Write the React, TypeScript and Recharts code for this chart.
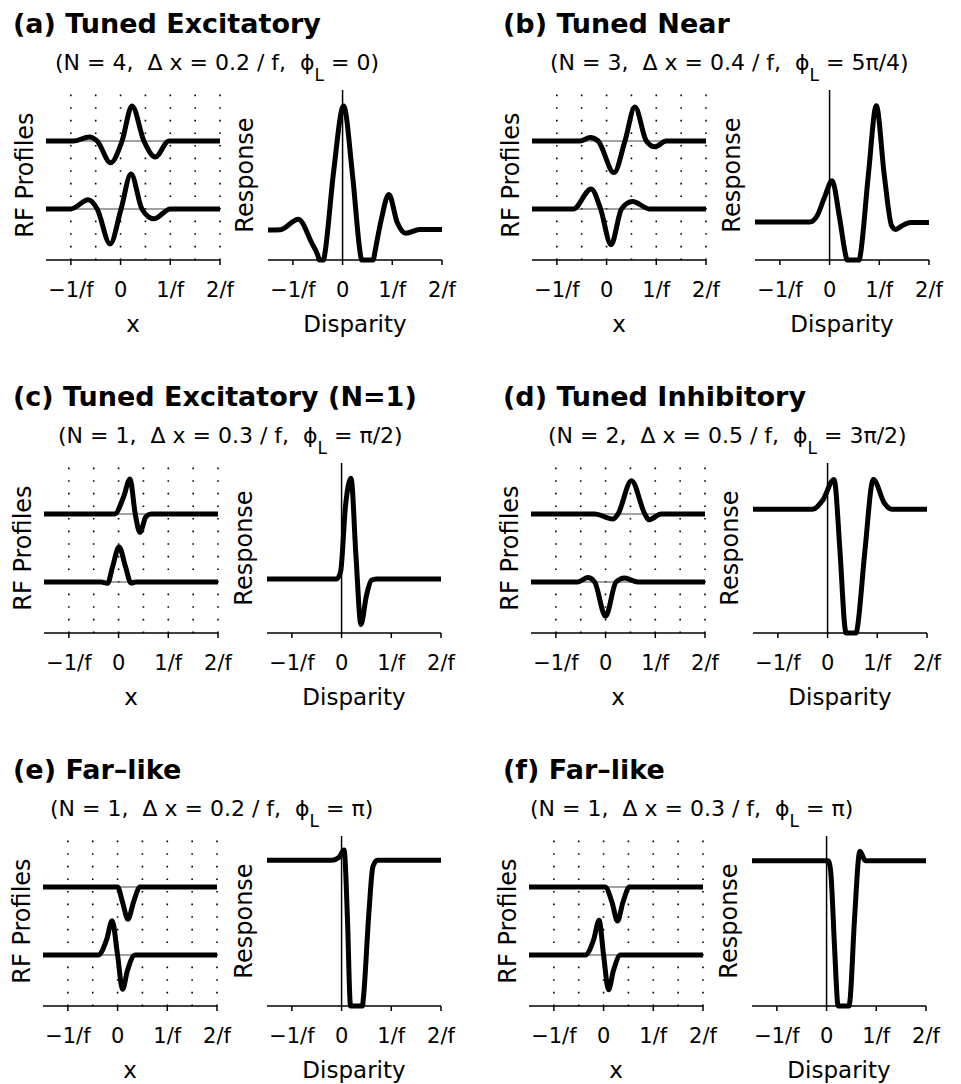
import React from "react";
import { Line, LineChart, ReferenceLine, XAxis, YAxis } from "recharts";

type Pt = [number, number];

// x is in units of 1/f. RF values are amplitudes about each profile's own baseline.
// Response values run from 0 (axis) to 1 (top of the box).

const A_RF_TOP: Pt[] = [[-1.5, 0], [-0.95, 0], [-0.63, 0.12], [-0.47, 0], [-0.2, -0.64], [0.03, 0], [0.23, 1.03], [0.47, 0], [0.7, -0.47], [0.97, 0], [2, 0]];
const A_RF_BOTTOM: Pt[] = [[-1.5, 0], [-1.0, 0], [-0.65, 0.27], [-0.47, 0], [-0.21, -1.03], [0.01, 0], [0.21, 1.03], [0.43, 0], [0.67, -0.29], [1.0, 0], [2, 0]];
const A_RESPONSE: Pt[] = [[-1.5, 0.176], [-1.25, 0.178], [-0.89, 0.24], [-0.62, 0.1], [-0.49, 0.02], [-0.47, 0], [-0.38, 0], [-0.36, 0.03], [-0.18, 0.52], [0.02, 0.906], [0.2, 0.5], [0.36, 0.03], [0.38, 0], [0.62, 0], [0.64, 0.03], [0.78, 0.24], [0.93, 0.386], [1.1, 0.22], [1.27, 0.157], [1.55, 0.18], [2, 0.18]];

const B_RF_TOP: Pt[] = [[-1.5, 0], [-0.53, 0], [-0.33, 0.1], [-0.17, 0], [0.15, -0.93], [0.37, 0], [0.57, 1.0], [0.8, 0], [0.97, -0.17], [1.2, 0], [2, 0]];
const B_RF_BOTTOM: Pt[] = [[-1.5, 0], [-0.67, 0], [-0.31, 0.59], [-0.12, 0], [0.09, -1.05], [0.3, 0], [0.52, 0.22], [0.87, 0], [2, 0]];
const B_RESPONSE: Pt[] = [[-1.5, 0.223], [-0.4, 0.223], [-0.25, 0.26], [-0.1, 0.37], [0.05, 0.466], [0.2, 0.25], [0.33, 0.02], [0.35, 0], [0.6, 0], [0.62, 0.03], [0.78, 0.5], [0.94, 0.907], [1.1, 0.5], [1.25, 0.2], [1.33, 0.18], [1.45, 0.2], [1.63, 0.22], [2, 0.22]];

const C_RF_TOP: Pt[] = [[-1.5, 0], [-0.08, 0], [0.1, 0.5], [0.23, 1.03], [0.335, 0], [0.43, -0.54], [0.55, -0.08], [0.65, 0], [2, 0]];
const C_RF_BOTTOM: Pt[] = [[-1.5, 0], [-0.35, 0], [-0.22, -0.04], [-0.12, 0.45], [0.01, 1.03], [0.14, 0.45], [0.25, -0.03], [0.35, 0], [2, 0]];
const C_RESPONSE: Pt[] = [[-1.5, 0.318], [-0.1, 0.318], [-0.02, 0.36], [0.08, 0.75], [0.19, 0.91], [0.29, 0.45], [0.39, 0.05], [0.5, 0.22], [0.6, 0.31], [0.7, 0.318], [2, 0.318]];

const D_RF_TOP: Pt[] = [[-1.5, 0], [-0.22, 0], [0.15, -0.15], [0.25, 0], [0.52, 0.98], [0.79, 0], [0.87, -0.17], [1.12, 0], [2, 0]];
const D_RF_BOTTOM: Pt[] = [[-1.5, 0], [-0.56, 0], [-0.36, 0.13], [-0.22, 0], [0.0, -1.01], [0.21, 0], [0.38, 0.12], [0.65, 0], [2, 0]];
const D_RESPONSE: Pt[] = [[-1.5, 0.728], [-0.3, 0.728], [-0.1, 0.78], [0.13, 0.903], [0.25, 0.48], [0.35, 0.03], [0.37, 0], [0.58, 0], [0.6, 0.03], [0.75, 0.48], [0.92, 0.903], [1.15, 0.76], [1.29, 0.728], [2, 0.728]];

const E_RF_TOP: Pt[] = [[-1.5, 0], [0.0, 0], [0.1, -0.45], [0.21, -0.95], [0.32, -0.45], [0.45, 0], [2, 0]];
const E_RF_BOTTOM: Pt[] = [[-1.5, 0], [-0.39, 0], [-0.22, 0.45], [-0.11, 1.01], [0.0, 0], [0.1, -1.01], [0.2, -0.45], [0.35, 0], [2, 0]];
const E_RESPONSE: Pt[] = [[-1.5, 0.858], [-0.19, 0.858], [-0.05, 0.875], [0.05, 0.917], [0.12, 0.5], [0.17, 0.03], [0.18, 0], [0.42, 0], [0.44, 0.05], [0.55, 0.55], [0.63, 0.82], [0.72, 0.858], [2, 0.858]];

const F_RF_TOP: Pt[] = [[-1.5, 0], [0.03, 0], [0.17, -0.45], [0.28, -1.0], [0.39, -0.45], [0.52, 0], [2, 0]];
const F_RF_BOTTOM: Pt[] = [[-1.5, 0], [-0.37, 0], [-0.2, 0.45], [-0.09, 1.02], [0.0, 0], [0.1, -1.02], [0.2, -0.45], [0.34, 0], [2, 0]];
const F_RESPONSE: Pt[] = [[-1.5, 0.855], [0.03, 0.855], [0.08, 0.8], [0.16, 0.35], [0.22, 0.02], [0.23, 0], [0.45, 0], [0.47, 0.03], [0.56, 0.5], [0.67, 0.91], [0.78, 0.855], [2, 0.855]];

const X_TICKS = [-1, 0, 1, 2];
const X_TICK_LABELS = ["−1/f", "0", "1/f", "2/f"];
const GRID_X = [-1, -0.5, 0, 0.5, 1, 1.5, 2];

const PANELS = [
  { title: "(a) Tuned Excitatory", n: "4", dx: "0.2", phi: "0", top: A_RF_TOP, bottom: A_RF_BOTTOM, response: A_RESPONSE },
  { title: "(b) Tuned Near", n: "3", dx: "0.4", phi: "5π/4", top: B_RF_TOP, bottom: B_RF_BOTTOM, response: B_RESPONSE },
  { title: "(c) Tuned Excitatory (N=1)", n: "1", dx: "0.3", phi: "π/2", top: C_RF_TOP, bottom: C_RF_BOTTOM, response: C_RESPONSE },
  { title: "(d) Tuned Inhibitory", n: "2", dx: "0.5", phi: "3π/2", top: D_RF_TOP, bottom: D_RF_BOTTOM, response: D_RESPONSE },
  { title: "(e) Far–like", n: "1", dx: "0.2", phi: "π", top: E_RF_TOP, bottom: E_RF_BOTTOM, response: E_RESPONSE },
  { title: "(f) Far–like", n: "1", dx: "0.3", phi: "π", top: F_RF_TOP, bottom: F_RF_BOTTOM, response: F_RESPONSE },
];

// layout (pixels)
const FONT = "DejaVu Sans";
const PLOT_W = 174;
const PLOT_H = 170;
const ROW_STEP = 373;
const FIRST_TOP = 90;
const RF_LEFT = [46, 532, 44, 531, 43, 529];
const RESP_LEFT = [268, 755, 267, 753, 267, 752];
const SUB_LEFT = [55, 550, 58, 548, 50, 530];
const TITLE_LEFT = [13, 503];
const PROFILE_OFFSET = 1;

const MT = 8;
const MR = 30;
const ML = 4;
const XH = 60;

const toRows = (pts: Pt[], shift = 0) => pts.map(([x, y]) => ({ x, y: y + shift }));

const renderTick = (props: any) => {
  const { x, y, payload } = props;
  const label = X_TICK_LABELS[X_TICKS.indexOf(payload.value)];
  return (
    <text x={x} y={y + 30} textAnchor="middle" fontFamily={FONT} fontSize={21} fill="#000">
      {label}
    </text>
  );
};

const axisStyle = { stroke: "#000", strokeWidth: 1.5 };

function Frame({ left, top, yDomain, children }: { left: number; top: number; yDomain: [number, number]; children: React.ReactNode }) {
  return (
    <div style={{ position: "absolute", left: left - ML, top: top - MT }}>
      <LineChart
        width={ML + PLOT_W + MR}
        height={MT + PLOT_H + XH}
        margin={{ top: MT, right: MR, bottom: 0, left: ML }}
      >
        <XAxis
          type="number"
          dataKey="x"
          domain={[-1.5, 2]}
          ticks={X_TICKS}
          interval={0}
          height={XH}
          tick={renderTick}
          tickSize={5}
          tickLine={axisStyle}
          axisLine={axisStyle}
        />
        <YAxis type="number" domain={yDomain} width={0} tick={false} tickLine={false} axisLine={axisStyle} />
        {children}
      </LineChart>
    </div>
  );
}

function curve(pts: { x: number; y: number }[], key: string) {
  return (
    <Line
      key={key}
      data={pts}
      dataKey="y"
      type="monotone"
      stroke="#000"
      strokeWidth={5}
      strokeLinejoin="round"
      dot={false}
      activeDot={false}
      isAnimationActive={false}
    />
  );
}

export default function App() {
  return (
    <div style={{ position: "absolute", left: 0, top: 0, width: 961, height: 1084, background: "#fff" }}>
      {PANELS.map((p, i) => {
        const row = Math.floor(i / 2);
        const top = FIRST_TOP + row * ROW_STEP;
        return (
          <React.Fragment key={p.title}>
            <Frame left={RF_LEFT[i]} top={top} yDomain={[-2.5, 2.5]}>
              {GRID_X.map((v) => (
                <ReferenceLine key={v} x={v} stroke="#000" strokeWidth={1.6} strokeDasharray="1.6 11" />
              ))}
              <ReferenceLine y={PROFILE_OFFSET} stroke="#444" strokeWidth={1} />
              <ReferenceLine y={-PROFILE_OFFSET} stroke="#444" strokeWidth={1} />
              {curve(toRows(p.top, PROFILE_OFFSET), "top")}
              {curve(toRows(p.bottom, -PROFILE_OFFSET), "bottom")}
            </Frame>
            <Frame left={RESP_LEFT[i]} top={top} yDomain={[0, 1]}>
              <ReferenceLine x={0} stroke="#000" strokeWidth={1.5} />
              {curve(toRows(p.response), "resp")}
            </Frame>
          </React.Fragment>
        );
      })}

      <svg width={961} height={1084} style={{ position: "absolute", left: 0, top: 0, pointerEvents: "none" }} fontFamily={FONT} fill="#000">
        {PANELS.map((p, i) => {
          const row = Math.floor(i / 2);
          const col = i % 2;
          const top = FIRST_TOP + row * ROW_STEP;
          const axisY = top + PLOT_H;
          return (
            <g key={p.title}>
              <text x={TITLE_LEFT[col]} y={33 + row * ROW_STEP} fontSize={27} fontWeight="bold">
                {p.title}
              </text>
              <text x={SUB_LEFT[i]} y={70 + row * ROW_STEP} fontSize={22} xmlSpace="preserve" style={{ whiteSpace: "pre" }}>
                {`(N = ${p.n},  Δ x = ${p.dx} / f,  ϕ`}
                <tspan dy={11} fontSize={17}>L</tspan>
                <tspan dy={-11}>{` = ${p.phi})`}</tspan>
              </text>
              <text transform={`translate(${RF_LEFT[i] - 13}, ${top + PLOT_H / 2}) rotate(-90)`} textAnchor="middle" fontSize={24}>
                RF Profiles
              </text>
              <text transform={`translate(${RESP_LEFT[i] - 15}, ${top + PLOT_H / 2}) rotate(-90)`} textAnchor="middle" fontSize={24}>
                Response
              </text>
              <text x={RF_LEFT[i] + PLOT_W / 2} y={axisY + 72} textAnchor="middle" fontSize={23}>
                x
              </text>
              <text x={RESP_LEFT[i] + PLOT_W / 2} y={axisY + 72} textAnchor="middle" fontSize={23}>
                Disparity
              </text>
            </g>
          );
        })}
      </svg>
    </div>
  );
}
